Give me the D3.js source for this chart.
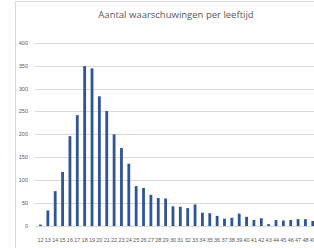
<!DOCTYPE html>
<html>
<head>
<meta charset="utf-8">
<script src="https://cdn.jsdelivr.net/npm/d3@7"></script>
<style>
  body { margin: 0; background: #fff; overflow: hidden; }
  svg { display: block; }
</style>
</head>
<body>
<div id="chart"></div>
<script>
// ages (the last one is cut off at the right edge)
var leeftijden = [12,13,14,15,16,17,18,19,20,21,22,23,24,25,26,27,28,29,30,
                  31,32,33,34,35,36,37,38,39,40,41,42,43,44,45,46,47,48,49]
// number of warnings per age
var waarschuwingen = [3,34,76,118,196,242,349,344,283,251,200,170,136,87,83,68,61,60,43,
                      42,39,47,29,28,22,16,18,27,20,13,17,4,13,12,13,15,15,11]
var yTicks = [0,50,100,150,200,250,300,350,400]

var width = 314, height = 248

var svg = d3.select("#chart")
  .append("svg")
    .attr("width", width)
    .attr("height", height)

// chart frame
svg.append("rect")
  .attr("x", 15.5).attr("y", 1.5)
  .attr("width", 320).attr("height", 260)
  .attr("fill", "none")
  .attr("stroke", "#d9d9d9")

// title
svg.append("text")
  .attr("x", 176)
  .attr("y", 18)
  .attr("text-anchor", "middle")
  .attr("font-family", "Open Sans, sans-serif")
  .attr("font-size", "9.5px")
  .attr("fill", "#595959")
  .text("Aantal waarschuwingen per leeftijd")

var x = d3.scaleBand()
  .domain(leeftijden)
  .range([35, 318.3])
  .paddingInner(0.62)
  .paddingOuter(0.557)

var y = d3.scaleLinear()
  .domain([0, 400])
  .range([226, 42.7])

// gridlines
svg.append("g")
  .selectAll("line")
  .data(yTicks)
  .enter()
  .append("line")
    .attr("x1", 35).attr("x2", width)
    .attr("y1", function(d){ return Math.round(y(d)) + 0.5 })
    .attr("y2", function(d){ return Math.round(y(d)) + 0.5 })
    .attr("stroke", "#d9d9d9")
    .attr("stroke-width", 1)

// y labels
svg.append("g")
  .selectAll("text")
  .data(yTicks)
  .enter()
  .append("text")
    .attr("x", 28)
    .attr("y", function(d){ return y(d) + 2 })
    .attr("text-anchor", "end")
    .attr("font-family", "Liberation Sans Narrow, Arial Narrow, sans-serif")
    .attr("font-size", "5.5px")
    .attr("fill", "#595959")
    .text(function(d){ return d })

// bars
svg.append("g")
  .selectAll("rect")
  .data(leeftijden)
  .enter()
  .append("rect")
    .attr("x", function(d){ return x(d) })
    .attr("width", x.bandwidth())
    .attr("y", function(d, i){ return y(waarschuwingen[i]) })
    .attr("height", function(d, i){ return y(0) - y(waarschuwingen[i]) })
    .attr("fill", "#2f5597")

// x labels
svg.append("g")
  .selectAll("text")
  .data(leeftijden)
  .enter()
  .append("text")
    .attr("x", function(d){ return x(d) + x.bandwidth() / 2 })
    .attr("y", 242)
    .attr("text-anchor", "middle")
    .attr("font-family", "Liberation Sans Narrow, Arial Narrow, sans-serif")
    .attr("font-size", "5.5px")
    .attr("fill", "#595959")
    .text(function(d){ return d })
</script>
</body>
</html>
